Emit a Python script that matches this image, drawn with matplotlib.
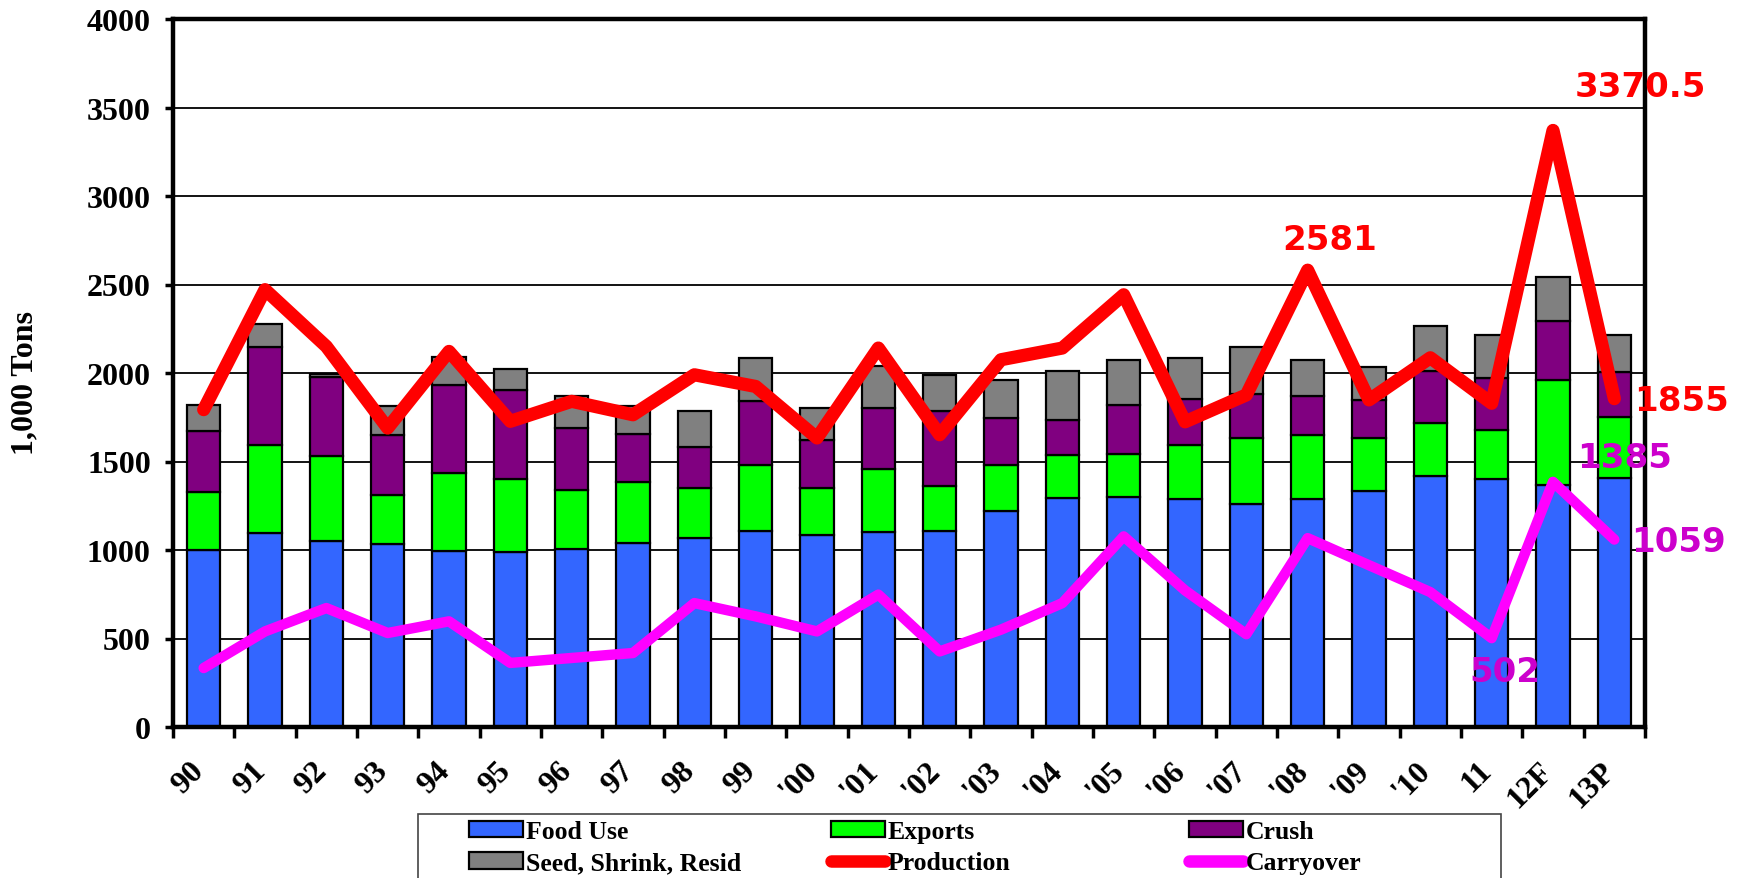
import numpy as np
import matplotlib.pyplot as plt
from matplotlib.patches import Patch, Rectangle
from matplotlib.lines import Line2D
from matplotlib.transforms import ScaledTranslation

years = ['90', '91', '92', '93', '94', '95', '96', '97', '98', '99', "'00", "'01", "'02",
         "'03", "'04", "'05", "'06", "'07", "'08", "'09", "'10", '11', '12F', '13P']

# stacked bar tops (cumulative), converted to segment sizes below
food_top = [1002, 1096, 1053, 1034, 992, 987, 1006, 1039, 1068, 1109, 1086, 1100, 1109,
            1218, 1294, 1299, 1290, 1261, 1286, 1334, 1419, 1400, 1366, 1404]
exports_top = [1326, 1591, 1529, 1312, 1435, 1401, 1341, 1382, 1350, 1482, 1350, 1457, 1360,
               1478, 1538, 1544, 1591, 1634, 1648, 1633, 1720, 1676, 1962, 1753]
crush_top = [1674, 2147, 1975, 1648, 1934, 1902, 1689, 1655, 1582, 1840, 1623, 1802, 1783,
             1746, 1732, 1817, 1854, 1880, 1871, 1848, 2010, 1972, 2292, 2006]
seed_top = [1821, 2278, 1996, 1811, 2088, 2024, 1872, 1811, 1783, 2083, 1804, 2037, 1990,
            1962, 2009, 2071, 2086, 2149, 2075, 2033, 2267, 2214, 2543, 2214]

production = [1793, 2471, 2150, 1689, 2122, 1727, 1840, 1764, 1990, 1924, 1633, 2141, 1651,
              2075, 2141, 2442, 1724, 1876, 2581, 1848, 2086, 1829, 3370.5, 1855]
carryover = [333, 540, 672, 531, 597, 362, 390, 418, 700, 625, 540, 748, 427,
             550, 700, 1077, 772, 524, 1067, 914, 762, 502, 1385, 1059]

food = np.array(food_top)
exports = np.array(exports_top) - np.array(food_top)
crush = np.array(crush_top) - np.array(exports_top)
seed = np.array(seed_top) - np.array(crush_top)

c_food = '#3366FF'
c_exp = '#00FF00'
c_crush = '#800080'
c_seed = '#808080'
c_prod = '#FF0000'
c_carry = '#FF00FF'
c_carry_txt = '#CC00CC'

serif = 'Liberation Serif'

fig = plt.figure(figsize=(17.43, 8.79), dpi=100)
ax = fig.add_axes([173/1743, 1-728/879, 1472/1743, 708/879])

x = np.arange(len(years))
w = 0.54
ax.bar(x, food, w, color=c_food, edgecolor='black', linewidth=1.6, zorder=2)
ax.bar(x, exports, w, bottom=food, color=c_exp, edgecolor='black', linewidth=1.6, zorder=2)
ax.bar(x, crush, w, bottom=food+exports, color=c_crush, edgecolor='black', linewidth=1.6, zorder=2)
ax.bar(x, seed, w, bottom=food+exports+crush, color=c_seed, edgecolor='black', linewidth=1.6, zorder=2)

ax.plot(x, production, color=c_prod, lw=9.5, solid_joinstyle='round', solid_capstyle='round', zorder=4)
ax.plot(x, carryover, color=c_carry, lw=7.5, solid_joinstyle='round', solid_capstyle='round', zorder=4)

# value labels
lab_font = dict(fontsize=24.5, fontweight='bold', family='DejaVu Sans', zorder=6)
ax.text(18 + 0.36, production[18] + 176, '2581', color=c_prod, ha='center', va='center', **lab_font)
ax.text(22 + 1.42, production[22] + 250, '3370.5', color=c_prod, ha='center', va='center', **lab_font)
ax.text(23 + 0.32, production[23] - 13, '1855', color=c_prod, ha='left', va='center', **lab_font)
ax.text(22 + 1.16, carryover[22] + 135, '1385', color=c_carry_txt, ha='center', va='center', **lab_font)
ax.text(23 + 0.27, carryover[23] - 9, '1059', color=c_carry_txt, ha='left', va='center', **lab_font)
ax.text(21 + 0.22, carryover[21] - 186, '502', color=c_carry_txt, ha='center', va='center', **lab_font)

ax.set_xlim(-0.5, len(years) - 0.5)
ax.set_ylim(0, 4000)
ax.set_yticks(np.arange(0, 4001, 500))
ax.yaxis.grid(True, color='black', lw=1.3, zorder=0)
ax.set_axisbelow(True)

for s in ax.spines.values():
    s.set_linewidth(3.2)

ax.set_xticks(x)
ax.set_xticklabels(years)
ax.set_xticks(np.arange(-0.5, len(years), 1), minor=True)
ax.tick_params(axis='x', which='major', length=0, pad=28)
ax.tick_params(axis='x', which='minor', length=8, width=2.5, direction='out')
ax.tick_params(axis='y', length=6, width=2.5, direction='out', pad=10)

for lab in ax.get_xticklabels():
    lab.set_fontfamily(serif)
    lab.set_fontweight('bold')
    lab.set_fontsize(23)
    lab.set_rotation(45)
    lab.set_ha('right')
    lab.set_va('center')
    lab.set_rotation_mode('anchor')
    lab.set_transform(lab.get_transform() + ScaledTranslation(-0.04, 0, fig.dpi_scale_trans))
for lab in ax.get_yticklabels():
    lab.set_fontfamily(serif)
    lab.set_fontweight('bold')
    lab.set_fontsize(23)

fig.text(25/1743, 1-383/879, '1,000 Tons', rotation=90, ha='center', va='center',
         fontsize=23, fontweight='bold', family=serif)

# legend: one frameless legend per column, plus a frame box cut off by the figure edge
entries = [
    [(Patch(facecolor=c_food, edgecolor='black', linewidth=1.6), 'Food Use'),
     (Patch(facecolor=c_seed, edgecolor='black', linewidth=1.6), 'Seed, Shrink, Resid')],
    [(Patch(facecolor=c_exp, edgecolor='black', linewidth=1.6), 'Exports'),
     (Line2D([0], [0], color=c_prod, lw=9, solid_capstyle='round'), 'Production')],
    [(Patch(facecolor=c_crush, edgecolor='black', linewidth=1.6), 'Crush'),
     (Line2D([0], [0], color=c_carry, lw=9, solid_capstyle='round'), 'Carryover')],
]
col_x = [469, 831, 1189]
for cx, col in zip(col_x, entries):
    lg = fig.legend([h for h, _ in col], [t for _, t in col], loc='upper left',
                    bbox_to_anchor=(cx/1743, 1-821/879), borderaxespad=0, borderpad=0,
                    labelspacing=0.33, handlelength=2.1, handleheight=0.6, handletextpad=0.1,
                    frameon=False, prop={'family': serif, 'weight': 'bold', 'size': 18.5})
fig.patches.append(Rectangle((418/1743, -0.05), 1083/1743, 0.05 + 1-815/879,
                             transform=fig.transFigure, fill=False, edgecolor='#444444', lw=1.2))

fig.savefig('out.png', dpi=100)
